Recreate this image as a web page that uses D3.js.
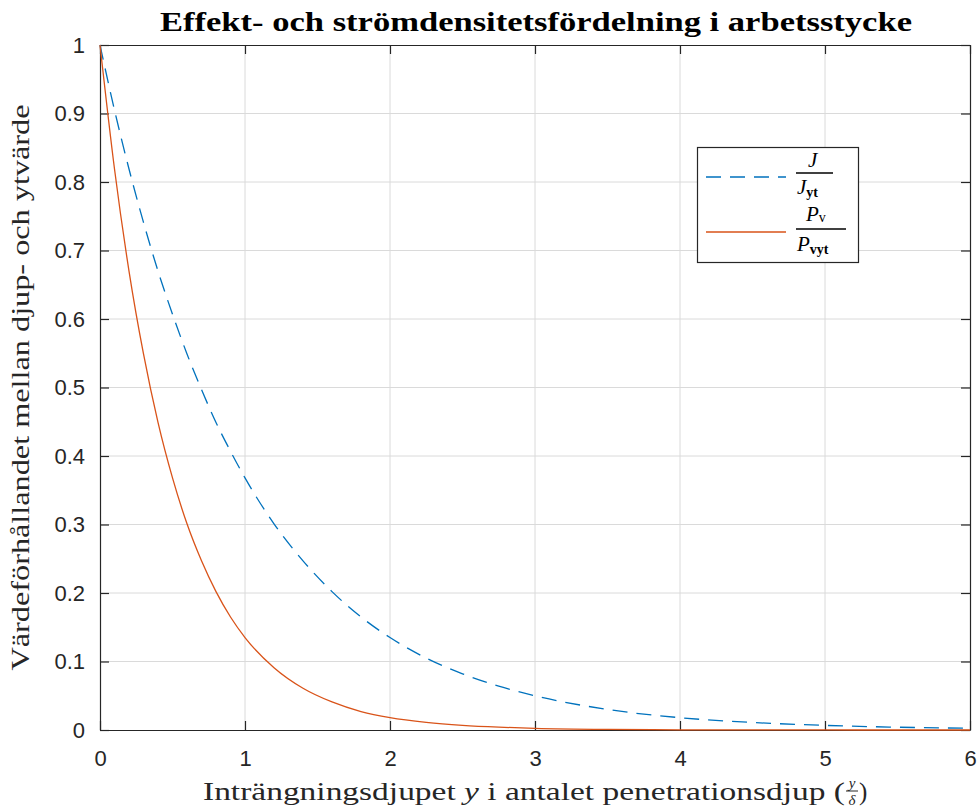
<!DOCTYPE html>
<html>
<head>
<meta charset="utf-8">
<script src="https://cdn.jsdelivr.net/npm/d3@7"></script>
<style>
  body { margin: 0; background: #fff; }
  svg { display: block; }
</style>
</head>
<body>
<script>
// values
const depth = [0, 0.1, 0.2, 0.3, 0.4, 0.5, 0.6, 0.7, 0.8, 0.9, 1.0, 1.2, 1.4, 1.6, 1.8, 2.0,
               2.25, 2.5, 2.75, 3.0, 3.5, 4.0, 4.5, 5.0, 5.5, 6.0];
const currentRatio = [1, 0.905, 0.819, 0.741, 0.670, 0.607, 0.549, 0.497, 0.449, 0.407, 0.368,
                      0.301, 0.247, 0.202, 0.165, 0.135, 0.105, 0.082, 0.064, 0.050, 0.030,
                      0.018, 0.011, 0.0067, 0.0041, 0.0025];
const powerRatio = [1, 0.819, 0.670, 0.549, 0.449, 0.368, 0.301, 0.247, 0.202, 0.165, 0.135,
                    0.091, 0.061, 0.041, 0.027, 0.018, 0.011, 0.0067, 0.0041, 0.0025, 0.0009,
                    0.0003, 0.0001, 0.00005, 0.00002, 0.00001];
const xTicks = [0, 1, 2, 3, 4, 5, 6];
const yTicks = [0, 0.1, 0.2, 0.3, 0.4, 0.5, 0.6, 0.7, 0.8, 0.9, 1];

const width = 978;
const height = 812;
const plotLeft = 100, plotRight = 970, plotTop = 45, plotBottom = 730;
const axisColor = '#262626';
const sans = 'Helvetica, Arial, "Liberation Sans", sans-serif';
const serif = '"Liberation Serif", "Times New Roman", serif';

const x = d3.scaleLinear().domain([0, 6]).range([plotLeft, plotRight]);
const y = d3.scaleLinear().domain([0, 1]).range([plotBottom, plotTop]);

const svg = d3.select('body')
    .append('svg')
    .attr('width', width)
    .attr('height', height);

// grid
svg.append('g')
    .selectAll('line')
    .data(xTicks.slice(1, -1))
    .enter()
    .append('line')
    .attr('x1', d => x(d)).attr('x2', d => x(d))
    .attr('y1', plotTop).attr('y2', plotBottom)
    .attr('stroke', '#dadada').attr('stroke-width', 1);

svg.append('g')
    .selectAll('line')
    .data(yTicks.slice(1, -1))
    .enter()
    .append('line')
    .attr('x1', plotLeft).attr('x2', plotRight)
    .attr('y1', d => y(d)).attr('y2', d => y(d))
    .attr('stroke', '#dadada').attr('stroke-width', 1);

// axes (ticks inside, box on)
const xAxis = d3.axisBottom(x).tickValues(xTicks).tickSizeInner(-9).tickSizeOuter(0).tickPadding(20)
    .tickFormat(d3.format('d'));
const yAxis = d3.axisLeft(y).tickValues(yTicks).tickSizeInner(-9).tickSizeOuter(0).tickPadding(15)
    .tickFormat(d => d === 0 || d === 1 ? d : d3.format('.1f')(d));

function styleAxis(g) {
    g.select('.domain').attr('stroke', axisColor).attr('stroke-width', 1.2);
    g.selectAll('.tick line').attr('stroke', axisColor).attr('stroke-width', 1.2);
    g.selectAll('.tick text').attr('fill', axisColor).attr('font-family', sans).attr('font-size', 22);
}

svg.append('g')
    .attr('transform', `translate(0, ${plotBottom})`)
    .call(xAxis)
    .call(styleAxis);

svg.append('g')
    .attr('transform', `translate(${plotLeft}, 0)`)
    .call(yAxis)
    .call(styleAxis);

svg.append('g')
    .attr('transform', `translate(0, ${plotTop})`)
    .call(d3.axisTop(x).tickValues(xTicks).tickSizeInner(-9).tickSizeOuter(0).tickFormat(''))
    .call(styleAxis);

svg.append('g')
    .attr('transform', `translate(${plotRight}, 0)`)
    .call(d3.axisRight(y).tickValues(yTicks).tickSizeInner(-9).tickSizeOuter(0).tickFormat(''))
    .call(styleAxis);

// curves
const line = d3.line()
    .x(d => x(d[0]))
    .y(d => y(d[1]))
    .curve(d3.curveMonotoneX);

svg.append('path')
    .datum(depth.map((d, i) => [d, currentRatio[i]]))
    .attr('d', line)
    .attr('fill', 'none')
    .attr('stroke', '#0072BD')
    .attr('stroke-width', 1.3)
    .attr('stroke-dasharray', '15,9');

svg.append('path')
    .datum(depth.map((d, i) => [d, powerRatio[i]]))
    .attr('d', line)
    .attr('fill', 'none')
    .attr('stroke', '#D95319')
    .attr('stroke-width', 1.3);

// title
svg.append('text')
    .attr('x', 160).attr('y', 31)
    .attr('textLength', 752)
    .attr('lengthAdjust', 'spacingAndGlyphs')
    .attr('font-family', serif)
    .attr('font-weight', 'bold')
    .attr('font-size', 27)
    .attr('fill', '#000')
    .text('Effekt- och strömdensitetsfördelning i arbetsstycke');

// x label
const xl = svg.append('text')
    .attr('x', 203).attr('y', 800)
    .attr('textLength', 642)
    .attr('lengthAdjust', 'spacingAndGlyphs')
    .attr('font-family', serif)
    .attr('font-size', 25)
    .attr('fill', '#262626');
xl.append('tspan').text('Inträngningsdjupet ');
xl.append('tspan').attr('font-style', 'italic').text('y');
xl.append('tspan').text(' i antalet penetrationsdjup (');

svg.append('text')
    .attr('x', 852).attr('y', 788)
    .attr('text-anchor', 'middle')
    .attr('font-family', serif).attr('font-style', 'italic').attr('font-size', 15)
    .attr('fill', '#262626')
    .text('y');
svg.append('line')
    .attr('x1', 846).attr('x2', 858).attr('y1', 791).attr('y2', 791)
    .attr('stroke', '#262626').attr('stroke-width', 1);
svg.append('text')
    .attr('x', 852).attr('y', 805)
    .attr('text-anchor', 'middle')
    .attr('font-family', serif).attr('font-style', 'italic').attr('font-size', 15)
    .attr('fill', '#262626')
    .text('δ');
svg.append('text')
    .attr('x', 859).attr('y', 800)
    .attr('font-family', serif).attr('font-size', 25)
    .attr('fill', '#262626')
    .text(')');

// y label
svg.append('text')
    .attr('transform', `translate(29, ${(plotTop + plotBottom) / 2}) rotate(-90)`)
    .attr('text-anchor', 'middle')
    .attr('textLength', 566)
    .attr('lengthAdjust', 'spacingAndGlyphs')
    .attr('font-family', serif)
    .attr('font-size', 25)
    .attr('fill', '#262626')
    .text('Värdeförhållandet mellan djup- och ytvärde');

// legend
const legend = svg.append('g');
legend.append('rect')
    .attr('x', 697.5).attr('y', 147.5)
    .attr('width', 161).attr('height', 115)
    .attr('fill', '#fff')
    .attr('stroke', axisColor).attr('stroke-width', 1.2);

legend.append('line')
    .attr('x1', 706).attr('x2', 786).attr('y1', 177).attr('y2', 177)
    .attr('stroke', '#0072BD').attr('stroke-width', 1.3).attr('stroke-dasharray', '15,9');
legend.append('line')
    .attr('x1', 706).attr('x2', 786).attr('y1', 232).attr('y2', 232)
    .attr('stroke', '#D95319').attr('stroke-width', 1.3);

function mathText(g, xPos, yPos, parts) {
    const t = g.append('text')
        .attr('x', xPos).attr('y', yPos)
        .attr('font-family', serif).attr('font-size', 21).attr('fill', '#000');
    parts.forEach(p => {
        const s = t.append('tspan').text(p.text);
        if (p.italic) s.attr('font-style', 'italic');
        if (p.bold) s.attr('font-weight', 'bold');
        if (p.sub) s.attr('font-size', 14).attr('dy', p.dy);
    });
    return t;
}

mathText(legend, 808, 167, [{ text: 'J', italic: true }]);
legend.append('line')
    .attr('x1', 796).attr('x2', 833).attr('y1', 173).attr('y2', 173)
    .attr('stroke', '#000').attr('stroke-width', 1.6);
mathText(legend, 797, 194, [{ text: 'J', italic: true }, { text: 'yt', bold: true, sub: true, dy: 3 }]);

mathText(legend, 806, 221, [{ text: 'P', italic: true }, { text: 'v', sub: true, dy: 1 }]);
legend.append('line')
    .attr('x1', 796).attr('x2', 846).attr('y1', 229).attr('y2', 229)
    .attr('stroke', '#000').attr('stroke-width', 1.6);
mathText(legend, 797, 251, [{ text: 'P', italic: true }, { text: 'vyt', bold: true, sub: true, dy: 3 }]);
</script>
</body>
</html>
